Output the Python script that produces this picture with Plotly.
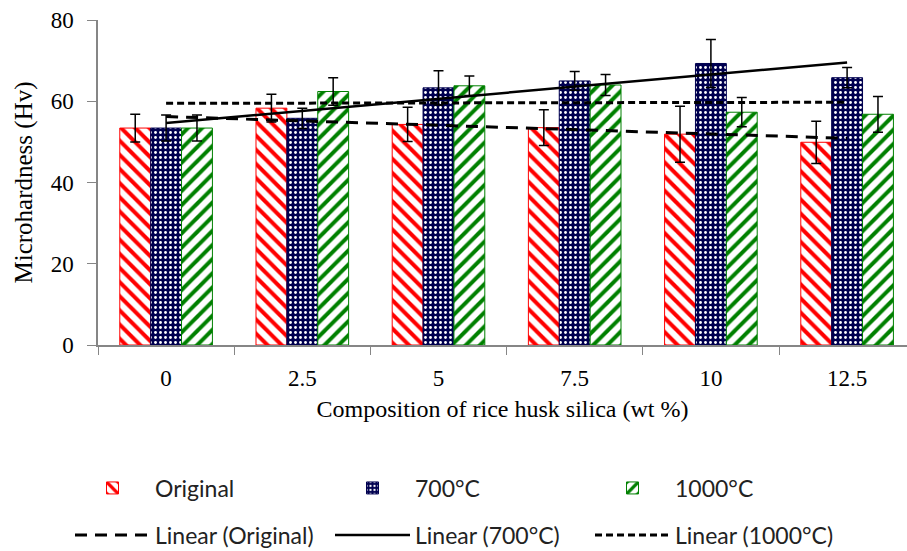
import numpy as np
import plotly.graph_objects as go

categories = ["0", "2.5", "5", "7.5", "10", "12.5"]
original = [53.4, 58.3, 54.3, 53.5, 51.9, 49.9]
original_err = [3.4, 3.4, 4.2, 4.4, 6.9, 5.2]
c700 = [53.4, 55.8, 63.3, 65.0, 69.3, 65.8]
c700_err = [3.2, 2.5, 4.2, 2.3, 5.9, 2.5]
c1000 = [53.4, 62.4, 63.8, 64.0, 57.3, 56.8]
c1000_err = [3.2, 3.4, 2.4, 2.6, 3.6, 4.4]
y_ticks = [0, 20, 40, 60, 80]

W, H = 907, 551
serif = "Liberation Serif"
sans = "Lato"

idx = np.arange(len(categories))


def trend(vals):
    m, b = np.polyfit(idx, np.asarray(vals, dtype=float), 1)
    return list(m * idx + b)


fig = go.Figure()

err_style = dict(type="data", visible=True, color="black", thickness=1.5, width=5)

fig.add_trace(go.Bar(
    name="Original", x=categories, y=original,
    error_y=dict(array=original_err, **err_style),
    marker=dict(color="white", line=dict(color="#FF0000", width=1),
                pattern=dict(shape="\\", fgcolor="#FF0000", bgcolor="white",
                             size=10, solidity=0.4, fillmode="replace")),
    legend="legend",
))
fig.add_trace(go.Bar(
    name="700°C", x=categories, y=c700,
    error_y=dict(array=c700_err, **err_style),
    marker=dict(color="#000050", line=dict(color="#000050", width=1),
                pattern=dict(shape=".", fgcolor="white", bgcolor="#000050",
                             size=5, solidity=0.25, fillmode="replace")),
    legend="legend",
))
fig.add_trace(go.Bar(
    name="1000°C", x=categories, y=c1000,
    error_y=dict(array=c1000_err, **err_style),
    marker=dict(color="white", line=dict(color="#008000", width=1),
                pattern=dict(shape="/", fgcolor="#008000", bgcolor="white",
                             size=10, solidity=0.4, fillmode="replace")),
    legend="legend",
))

fig.add_trace(go.Scatter(
    name="Linear (Original)", x=categories, y=trend(original), mode="lines",
    line=dict(color="black", width=3, dash="12px,8px"), legend="legend2",
))
fig.add_trace(go.Scatter(
    name="Linear (700°C)", x=categories, y=trend(c700), mode="lines",
    line=dict(color="black", width=2.5), legend="legend2",
))
fig.add_trace(go.Scatter(
    name="Linear (1000°C)", x=categories, y=trend(c1000), mode="lines",
    line=dict(color="black", width=3, dash="7px,4px"), legend="legend2",
))

ml, mt, mb = 98, 20, 206
plot_w = W - ml
cat_px = 136.2
right_cat = -0.5 + plot_w / cat_px

legend_common = dict(
    orientation="h", xref="container", yref="container",
    xanchor="left", yanchor="middle",
    font=dict(family=sans, size=23, color="#222222"),
    entrywidth=170, entrywidthmode="pixels", itemwidth=75,
    bgcolor="rgba(0,0,0,0)", borderwidth=0,
)

fig.update_layout(
    width=W, height=H,
    margin=dict(l=ml, r=0, t=mt, b=mb, pad=0),
    paper_bgcolor="white", plot_bgcolor="white",
    barmode="group", bargap=0.32, bargroupgap=0,
    xaxis=dict(
        type="category", range=[-0.5, right_cat],
        tickson="boundaries", ticks="outside", ticklen=8, tickcolor="#868686",
        showline=True, linecolor="#868686", linewidth=1.5,
        showgrid=False, zeroline=False,
        tickfont=dict(family=serif, size=23, color="black"),
        ticklabelstandoff=12,
        title=dict(text="Composition of rice husk silica (wt %)",
                   font=dict(family=serif, size=24, color="black"), standoff=10),
    ),
    yaxis=dict(
        range=[0, 80], tickvals=y_ticks, ticks="outside", ticklen=9,
        tickcolor="#868686", showline=True, linecolor="#868686", linewidth=1.5,
        showgrid=False, zeroline=False,
        tickfont=dict(family=serif, size=23, color="black"),
        ticklabelstandoff=9,
        title=dict(text="Microhardness (Hv)",
                   font=dict(family=serif, size=25, color="black"), standoff=11),
    ),
    legend=dict(x=70 / W, y=1 - 488 / H, **legend_common),
    legend2=dict(x=70 / W, y=1 - 535 / H, **legend_common),
    showlegend=True,
)

fig.write_html("out.html")
